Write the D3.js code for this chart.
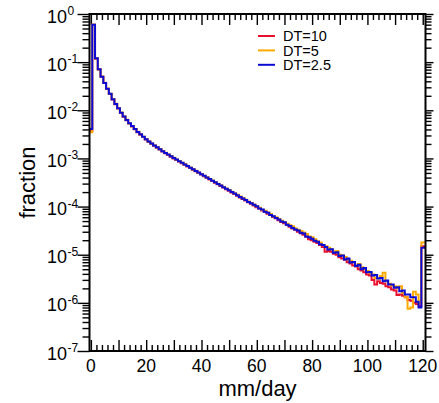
<!DOCTYPE html>
<html><head><meta charset="utf-8">
<script src="https://cdn.jsdelivr.net/npm/d3@7"></script>
<style>
body{margin:0;background:#fff}
svg{display:block}
text{font-family:"Liberation Sans",Arial,Helvetica,sans-serif;fill:#000}
</style>
</head><body>
<svg id="c" width="439" height="403"></svg>
<script>
// ---- data ----
const binCenters = d3.range(0, 121); // mm/day bins (1 mm/day wide)
const seriesNames = ["DT=10", "DT=5", "DT=2.5"];
const fracDT10 = [3.7e-3, 0.60, 0.118, 7.0e-2, 4.95e-2, 3.68e-2, 2.78e-2, 2.17e-2, 1.68e-2, 1.33e-2,
1.09e-2, 8.8e-3, 7.3e-3, 6.2e-3, 5.3e-3, 4.62e-3, 4.02e-3, 3.5e-3, 3.12e-3, 2.78e-3,
2.47e-3, 2.23e-3, 2.01e-3, 1.83e-3, 1.67e-3, 1.53e-3, 1.39e-3, 1.28e-3, 1.18e-3, 1.09e-3,
1.0e-3, 9.3e-4, 8.6e-4, 7.95e-4, 7.35e-4, 6.8e-4, 6.3e-4, 5.82e-4, 5.4e-4, 4.99e-4,
4.62e-4, 4.27e-4, 3.96e-4, 3.66e-4, 3.38e-4, 3.13e-4, 2.9e-4, 2.68e-4, 2.48e-4, 2.29e-4,
2.12e-4, 1.96e-4, 1.82e-4, 1.68e-4, 1.55e-4, 1.44e-4, 1.33e-4, 1.23e-4, 1.14e-4, 1.05e-4,
9.7e-5, 9.1e-5, 8.3e-5, 7.8e-5, 7.1e-5, 6.7e-5, 6.1e-5, 5.7e-5, 5.2e-5, 4.8e-5,
4.5e-5, 4.2e-5, 3.8e-5, 3.5e-5, 3.3e-5, 3.0e-5, 2.8e-5, 2.6e-5, 2.35e-5, 2.1e-5,
2.0e-5, 1.85e-5, 1.75e-5, 1.6e-5, 1.45e-5, 1.15e-5, 1.2e-5, 1.15e-5, 1.05e-5, 1.0e-5,
8.9e-6, 8.3e-6, 7.9e-6, 7.0e-6, 6.6e-6, 6.0e-6, 5.7e-6, 5.0e-6, 4.7e-6, 4.3e-6,
3.9e-6, 3.7e-6, 3.0e-6, 2.4e-6, 2.8e-6, 2.6e-6, 2.5e-6, 2.2e-6, 2.1e-6, 1.9e-6,
1.8e-6, 1.45e-6, 1.5e-6, 1.4e-6, 1.3e-6, 1.15e-6, 1.1e-6, 1.0e-6, 9.5e-7, 8.5e-7,
1.5e-5];
const fracDT5 = [3.5e-3, 0.60, 0.121, 7.15e-2, 5.05e-2, 3.74e-2, 2.83e-2, 2.2e-2, 1.71e-2, 1.36e-2,
1.1e-2, 8.95e-3, 7.45e-3, 6.33e-3, 5.4e-3, 4.7e-3, 4.09e-3, 3.57e-3, 3.17e-3, 2.83e-3,
2.52e-3, 2.27e-3, 2.05e-3, 1.87e-3, 1.71e-3, 1.56e-3, 1.42e-3, 1.31e-3, 1.21e-3, 1.12e-3,
1.03e-3, 9.5e-4, 8.8e-4, 8.15e-4, 7.55e-4, 6.97e-4, 6.46e-4, 5.98e-4, 5.53e-4, 5.12e-4,
4.74e-4, 4.39e-4, 4.07e-4, 3.76e-4, 3.48e-4, 3.22e-4, 2.99e-4, 2.77e-4, 2.56e-4, 2.37e-4,
2.2e-4, 2.03e-4, 1.89e-4, 1.75e-4, 1.62e-4, 1.5e-4, 1.39e-4, 1.28e-4, 1.19e-4, 1.1e-4,
1.02e-4, 9.5e-5, 8.6e-5, 8.2e-5, 7.5e-5, 7.0e-5, 6.3e-5, 6.0e-5, 5.5e-5, 5.1e-5,
4.8e-5, 4.4e-5, 4.1e-5, 3.9e-5, 3.5e-5, 3.3e-5, 3.1e-5, 2.9e-5, 2.7e-5, 2.4e-5,
2.3e-5, 2.1e-5, 1.9e-5, 1.8e-5, 1.6e-5, 1.5e-5, 1.4e-5, 1.3e-5, 1.15e-5, 1.2e-5,
1.0e-5, 9.6e-6, 9.0e-6, 8.0e-6, 7.5e-6, 7.0e-6, 6.0e-6, 6.4e-6, 5.5e-6, 5.0e-6,
4.6e-6, 4.2e-6, 3.9e-6, 3.3e-6, 3.2e-6, 3.6e-6, 4.2e-6, 2.8e-6, 2.5e-6, 2.3e-6,
2.2e-6, 2.0e-6, 2.2e-6, 1.6e-6, 1.3e-6, 7.5e-7, 8.0e-7, 1.7e-6, 1.5e-6, 1.0e-6,
1.8e-5];
const fracDT25 = [4.1e-3, 0.60, 0.12, 7.1e-2, 5.0e-2, 3.7e-2, 2.8e-2, 2.2e-2, 1.7e-2, 1.35e-2,
1.1e-2, 8.9e-3, 7.4e-3, 6.3e-3, 5.4e-3, 4.7e-3, 4.07e-3, 3.55e-3, 3.16e-3, 2.82e-3,
2.51e-3, 2.26e-3, 2.04e-3, 1.86e-3, 1.70e-3, 1.55e-3, 1.41e-3, 1.30e-3, 1.20e-3, 1.11e-3,
1.02e-3, 9.46e-4, 8.77e-4, 8.11e-4, 7.50e-4, 6.94e-4, 6.43e-4, 5.94e-4, 5.50e-4, 5.09e-4,
4.71e-4, 4.36e-4, 4.04e-4, 3.73e-4, 3.45e-4, 3.19e-4, 2.96e-4, 2.74e-4, 2.53e-4, 2.34e-4,
2.17e-4, 2.00e-4, 1.86e-4, 1.72e-4, 1.59e-4, 1.47e-4, 1.37e-4, 1.25e-4, 1.17e-4, 1.09e-4,
1.01e-4, 9.1e-5, 8.7e-5, 7.8e-5, 7.4e-5, 6.7e-5, 6.3e-5, 5.8e-5, 5.4e-5, 4.9e-5,
4.7e-5, 4.2e-5, 3.95e-5, 3.6e-5, 3.35e-5, 3.2e-5, 2.85e-5, 2.75e-5, 2.4e-5, 2.3e-5,
2.15e-5, 1.95e-5, 1.85e-5, 1.65e-5, 1.6e-5, 1.45e-5, 1.28e-5, 1.3e-5, 1.1e-5, 1.12e-5,
9.4e-6, 9.6e-6, 8.0e-6, 8.3e-6, 6.9e-6, 7.1e-6, 5.8e-6, 6.2e-6, 5.0e-6, 5.3e-6,
4.3e-6, 4.4e-6, 3.7e-6, 3.8e-6, 3.2e-6, 3.3e-6, 2.8e-6, 2.9e-6, 2.4e-6, 2.4e-6,
2.05e-6, 2.1e-6, 1.75e-6, 1.8e-6, 1.5e-6, 1.5e-6, 1.3e-6, 1.3e-6, 1.05e-6, 8.0e-7,
1.4e-5];
const xTickLabels = [0, 20, 40, 60, 80, 100, 120];
const yTickExponents = [0, -1, -2, -3, -4, -5, -6, -7];

// ---- layout ----
const L = 89.5, R = 425.5, T = 14, B = 351;
const svg = d3.select("#c");
const x = d3.scaleLinear().domain([-0.5, 121]).range([L, R]);
const y = d3.scaleLog().domain([1e-7, 1]).range([B, T]);

// ticks
const xMajor = d3.range(0, 121, 10);
const xMinor = d3.range(0, 121, 2).filter(v => v % 10 !== 0);
const yMajor = yTickExponents.map(e => Math.pow(10, e));
const yMinor = [];
yTickExponents.slice(1).forEach(e => { for (let m = 2; m <= 9; m++) yMinor.push(m * Math.pow(10, e)); });

function styleAxis(g) {
  g.select(".domain").remove();
  g.selectAll(".tick line").attr("stroke", "#000").attr("stroke-width", 1.4);
}
// bottom (inward)
svg.append("g").attr("transform", `translate(0,${B})`)
  .call(d3.axisTop(x).tickValues(xMinor).tickSize(6).tickFormat("")).call(styleAxis);
svg.append("g").attr("transform", `translate(0,${B})`)
  .call(d3.axisTop(x).tickValues(xMajor).tickSize(11).tickFormat("")).call(styleAxis);
// top (inward)
svg.append("g").attr("transform", `translate(0,${T})`)
  .call(d3.axisBottom(x).tickValues(xMinor).tickSize(6).tickFormat("")).call(styleAxis);
svg.append("g").attr("transform", `translate(0,${T})`)
  .call(d3.axisBottom(x).tickValues(xMajor).tickSize(11).tickFormat("")).call(styleAxis);
// left (outward)
svg.append("g").attr("transform", `translate(${L},0)`)
  .call(d3.axisLeft(y).tickValues(yMinor).tickSize(7).tickFormat("")).call(styleAxis);
svg.append("g").attr("transform", `translate(${L},0)`)
  .call(d3.axisLeft(y).tickValues(yMajor).tickSize(12).tickFormat("")).call(styleAxis);
// right (outward)
svg.append("g").attr("transform", `translate(${R},0)`)
  .call(d3.axisRight(y).tickValues(yMinor).tickSize(6).tickFormat("")).call(styleAxis);
svg.append("g").attr("transform", `translate(${R},0)`)
  .call(d3.axisRight(y).tickValues(yMajor).tickSize(8).tickFormat("")).call(styleAxis);

// x labels
svg.append("g").selectAll("text").data(xTickLabels).join("text")
  .attr("x", d => x(d)).attr("y", B + 21)
  .attr("text-anchor", "middle").attr("font-size", 17.5).text(d => d);

// y labels 10^e
const yl = svg.append("g").selectAll("g").data(yTickExponents).join("g");
yl.append("text").attr("x", 67).attr("y", e => y(Math.pow(10, e)) + 8.5)
  .attr("text-anchor", "end").attr("font-size", 18).text("10");
yl.append("text").attr("x", 67.5).attr("y", e => y(Math.pow(10, e)) + 1)
  .attr("text-anchor", "start").attr("font-size", 12).text(e => e === 0 ? "0" : "-" + Math.abs(e));

// axis titles
svg.append("text").attr("x", (L + R) / 2).attr("y", 395.5).attr("text-anchor", "middle")
  .attr("font-size", 22).text("mm/day");
svg.append("text").attr("transform", `translate(35,${(T + B) / 2}) rotate(-90)`)
  .attr("text-anchor", "middle").attr("font-size", 22).text("fraction");

// data lines
const series = [
  {name: seriesNames[0], color: "#e8112d", values: fracDT10},
  {name: seriesNames[1], color: "#ffaa00", values: fracDT5},
  {name: seriesNames[2], color: "#0b0bd6", values: fracDT25}
];
const line = d3.line().x(d => x(d[0])).y(d => y(d[1])).curve(d3.curveStep);
series.forEach(s => {
  const pts = [[x.domain()[0], s.values[0]]]
    .concat(binCenters.map((c, i) => [c, s.values[i]]))
    .concat([[x.domain()[1], s.values[s.values.length - 1]]]);
  svg.append("path").attr("d", line(pts)).attr("fill", "none")
    .attr("stroke", s.color).attr("stroke-width", 2).attr("stroke-linejoin", "miter");
});

// frame
svg.append("rect").attr("x", L).attr("y", T).attr("width", R - L).attr("height", B - T)
  .attr("fill", "none").attr("stroke", "#000").attr("stroke-width", 2);

// legend
const lg = svg.append("g").selectAll("g").data(series).join("g")
  .attr("transform", (d, i) => `translate(0,${36 + i * 14.4})`);
lg.append("line").attr("x1", 258).attr("x2", 275).attr("stroke", d => d.color).attr("stroke-width", 2);
lg.append("text").attr("x", 283).attr("y", 0).attr("dy", "0.36em").attr("font-size", 14.5).text(d => d.name);
</script>
</body></html>
